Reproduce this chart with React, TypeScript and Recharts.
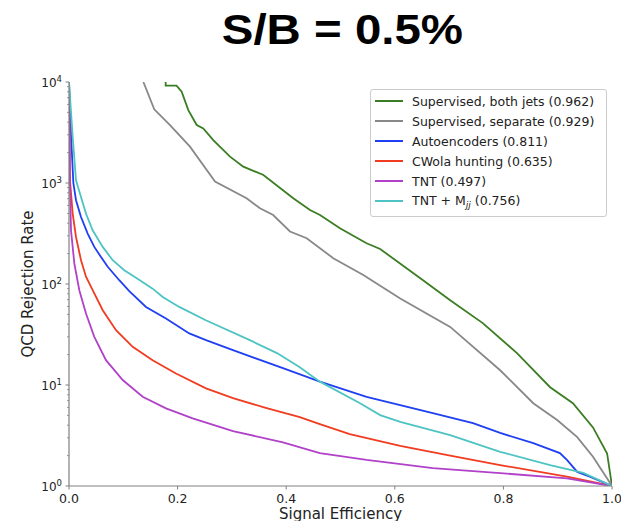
import React from 'react';
import { LineChart, Line, XAxis, YAxis, Legend } from 'recharts';

// ---- data (signal efficiency, QCD rejection) ----
const effGreen = [0.178, 0.178, 0.198, 0.2075, 0.2197, 0.2352, 0.2473, 0.2657, 0.2965, 0.321, 0.358, 0.413, 0.4438, 0.4622, 0.499, 0.548, 0.573, 0.652, 0.702, 0.762, 0.825, 0.886, 0.928, 0.965, 0.991, 1.0];
const rejGreen = [10000, 9200, 9200, 8020, 5270, 3750, 3476, 2662, 1824, 1452, 1200, 706, 541, 482, 356, 253, 222, 109, 69, 41, 20.7, 9.5, 6.6, 3.8, 2.1, 1];

const effGray = [0.137, 0.157, 0.186, 0.2228, 0.2689, 0.327, 0.3517, 0.376, 0.407, 0.4377, 0.4867, 0.542, 0.61, 0.702, 0.794, 0.855, 0.899, 0.936, 0.965, 1.0];
const rejGray = [10000, 5360, 3750, 2290, 1032, 706, 562, 482, 331, 284, 180, 123, 72, 37.6, 14.0, 6.6, 4.5, 3.05, 1.95, 1];

const effBlue = [0, 0.004, 0.008, 0.0129, 0.0221, 0.0344, 0.0466, 0.0589, 0.0713, 0.0926, 0.111, 0.1418, 0.1786, 0.2215, 0.2523, 0.302, 0.394, 0.462, 0.548, 0.67, 0.744, 0.794, 0.855, 0.904, 0.917, 0.936, 0.959, 1.0];
const rejBlue = [10000, 2800, 1000, 675, 461, 316, 233, 185, 148, 109, 85, 59.3, 45.6, 32.4, 27.8, 22.1, 14.7, 10.8, 7.64, 5.27, 4.2, 3.35, 2.66, 2.12, 1.81, 1.38, 1.24, 1];

const effRed = [0, 0.0018, 0.0068, 0.0129, 0.0221, 0.0313, 0.0436, 0.0621, 0.0866, 0.1173, 0.154, 0.197, 0.2523, 0.302, 0.364, 0.425, 0.462, 0.517, 0.61, 0.702, 0.794, 0.917, 1.0];
const rejRed = [10000, 1064, 498, 292, 172, 118, 86.8, 55, 34.9, 23.9, 17.6, 13.0, 9.25, 7.4, 5.9, 4.8, 4.1, 3.27, 2.5, 2.0, 1.61, 1.24, 1];

const effPurple = [0, 0.0018, 0.0037, 0.0098, 0.019, 0.0313, 0.0466, 0.0681, 0.0989, 0.1357, 0.1786, 0.2278, 0.302, 0.394, 0.462, 0.548, 0.67, 0.794, 0.917, 1.0];
const rejPurple = [10000, 1000, 340, 160, 86.8, 51, 30, 17.6, 11.2, 7.64, 5.87, 4.67, 3.5, 2.7, 2.12, 1.81, 1.5, 1.34, 1.19, 1];

const effCyan = [0, 0.0068, 0.0129, 0.0221, 0.0313, 0.0436, 0.0621, 0.0805, 0.1018, 0.1234, 0.154, 0.1726, 0.203, 0.252, 0.333, 0.383, 0.425, 0.462, 0.536, 0.573, 0.61, 0.702, 0.794, 0.886, 0.947, 1.0];
const rejCyan = [10000, 2850, 1064, 727, 498, 340, 233, 172, 137, 115, 90, 74.5, 59.3, 43.8, 27.8, 20.7, 15.0, 10.8, 6.6, 5.04, 4.32, 3.19, 2.18, 1.61, 1.35, 1];

const xTicks = [0, 0.2, 0.4, 0.6, 0.8, 1.0];
const yMinorMultipliers = [2, 3, 4, 5, 6, 7, 8, 9];

const seriesLabels = [
  'Supervised, both jets (0.962)',
  'Supervised, separate (0.929)',
  'Autoencoders (0.811)',
  'CWola hunting (0.635)',
  'TNT (0.497)',
  'TNT + M',
];
const lastLabelSub = 'jj';
const lastLabelSuffix = ' (0.756)';
const titleText = 'S/B = 0.5%';
const xLabel = 'Signal Efficiency';
const yLabel = 'QCD Rejection Rate';

const colors = ['#3a7d22', '#888888', '#1f3ff2', '#f03c20', '#b041c8', '#4ec3c3'];

const toPoints = (eff: number[], rej: number[]) => eff.map((e, i) => ({ e, r: rej[i] }));
const seriesData = [
  toPoints(effGreen, rejGreen),
  toPoints(effGray, rejGray),
  toPoints(effBlue, rejBlue),
  toPoints(effRed, rejRed),
  toPoints(effPurple, rejPurple),
  toPoints(effCyan, rejCyan),
];

const yAllTicks: number[] = [];
for (let k = 0; k < 4; k++) {
  yAllTicks.push(Math.pow(10, k));
  yMinorMultipliers.forEach((m) => yAllTicks.push(m * Math.pow(10, k)));
}
yAllTicks.push(10000);

const SPINE = '#808080';
const TEXT = '#222222';
const FONT = '"DejaVu Sans", sans-serif';

const XTick = (props: any) => {
  const { x, y, payload } = props;
  return (
    <g>
      <line x1={x} x2={x} y1={y} y2={y + 3.5} stroke={SPINE} strokeWidth={1} />
      <text x={x} y={y + 16.5} textAnchor="middle" fontSize={12.5} fontFamily={FONT} fill={TEXT}>
        {Number(payload.value).toFixed(1)}
      </text>
    </g>
  );
};

const YTick = (props: any) => {
  const { x, y, payload } = props;
  const v = payload.value;
  const exp = Math.log10(v);
  const isMajor = Math.abs(exp - Math.round(exp)) < 1e-9;
  return (
    <g>
      <line x1={x - (isMajor ? 3.5 : 2)} x2={x} y1={y} y2={y} stroke={SPINE} strokeWidth={isMajor ? 1 : 0.8} />
      {isMajor && (
        <text x={62} y={y + 5} textAnchor="end" fontSize={12} fontFamily={FONT} fill={TEXT}>
          10
          <tspan dy={-5} fontSize={8.5}>{String(Math.round(exp))}</tspan>
        </text>
      )}
    </g>
  );
};

const XTitle = (props: any) => {
  const vb = props.viewBox || { x: 69, width: 543 };
  return (
    <text x={vb.x + vb.width / 2} y={519} textAnchor="middle" fontSize={15} fontFamily={FONT} fill={TEXT}>
      {xLabel}
    </text>
  );
};

const YTitle = (props: any) => {
  const vb = props.viewBox || { y: 82, height: 404 };
  const cy = vb.y + vb.height / 2;
  return (
    <text
      x={33}
      y={cy}
      transform={`rotate(-90 33 ${cy})`}
      textAnchor="middle"
      fontSize={15}
      fontFamily={FONT}
      fill={TEXT}
    >
      {yLabel}
    </text>
  );
};

const LegendBox = () => (
  <div
    style={{
      border: '1px solid #cccccc',
      borderRadius: 3,
      background: 'rgba(255,255,255,0.8)',
      padding: '1px 6px 5px 4px',
      fontFamily: FONT,
      fontSize: 12.5,
      color: TEXT,
      boxSizing: 'border-box',
      width: 237,
    }}
  >
    {seriesLabels.map((label, i) => (
      <div key={i} style={{ display: 'flex', alignItems: 'center', height: 20, whiteSpace: 'nowrap' }}>
        <div style={{ width: 28, height: 2, background: colors[i], marginRight: 9, flexShrink: 0 }} />
        <span>
          {label}
          {i === seriesLabels.length - 1 && (
            <>
              <sub style={{ fontStyle: 'italic', fontSize: 9, verticalAlign: '-3px' }}>{lastLabelSub}</sub>
              {lastLabelSuffix}
            </>
          )}
        </span>
      </div>
    ))}
  </div>
);

export default function App() {
  return (
    <div style={{ position: 'absolute', left: 0, top: 0, width: 621, height: 521, background: '#fff' }}>
      <svg width={621} height={60} style={{ position: 'absolute', left: 0, top: 0 }}>
        <text
          x={342.4}
          y={44.3}
          textAnchor="middle"
          fontFamily='"Liberation Sans", Arial, sans-serif'
          fontWeight="bold"
          fontSize={42}
          fill="#000"
          transform="translate(342.4 0) scale(1.13 1) translate(-342.4 0)"
        >
          {titleText}
        </text>
      </svg>
      <div style={{ position: 'absolute', left: 0, top: 0 }}>
        <LineChart width={621} height={521} margin={{ top: 82, right: 9, bottom: 0, left: 0 }}>
          <XAxis
            dataKey="e"
            type="number"
            domain={[0, 1]}
            ticks={xTicks}
            height={35}
            tickLine={false}
            tickSize={0}
            tickMargin={0}
            tick={<XTick />}
            axisLine={{ stroke: SPINE, strokeWidth: 1.2 }}
            allowDataOverflow
            label={<XTitle />}
          />
          <XAxis
            xAxisId="top"
            orientation="top"
            type="number"
            domain={[0, 1]}
            height={0}
            tick={false}
            tickLine={false}
            axisLine={{ stroke: SPINE, strokeWidth: 1.2 }}
          />
          <YAxis
            type="number"
            scale="log"
            domain={[1, 10000]}
            ticks={yAllTicks}
            interval={0}
            width={69}
            tickLine={false}
            tickSize={0}
            tickMargin={0}
            tick={<YTick />}
            axisLine={{ stroke: SPINE, strokeWidth: 1.2 }}
            allowDataOverflow
            label={<YTitle />}
          />
          <YAxis
            yAxisId="right"
            orientation="right"
            type="number"
            domain={[0, 1]}
            width={0}
            tick={false}
            tickLine={false}
            axisLine={{ stroke: SPINE, strokeWidth: 1.2 }}
          />
          {seriesData.map((d, i) => (
            <Line
              key={i}
              data={d}
              dataKey="r"
              type="linear"
              stroke={colors[i]}
              strokeWidth={1.8}
              dot={false}
              isAnimationActive={false}
            />
          ))}
          <Legend
            layout="vertical"
            align="center"
            verticalAlign="middle"
            content={<LegendBox />}
            wrapperStyle={{ position: 'absolute', left: 370, top: 89, width: 237, height: 'auto', bottom: 'auto', right: 'auto' }}
          />
        </LineChart>
      </div>
    </div>
  );
}
